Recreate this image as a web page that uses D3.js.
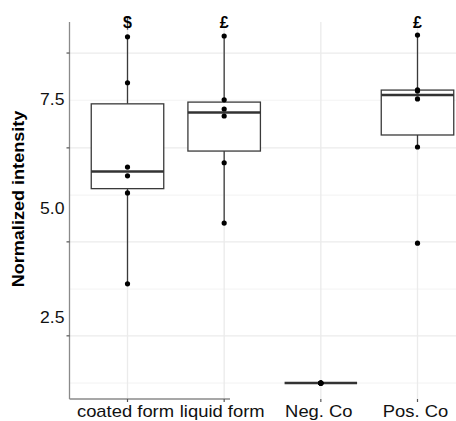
<!DOCTYPE html>
<html><head><meta charset="utf-8">
<script src="https://cdn.jsdelivr.net/npm/d3@7"></script>
<style>body{margin:0;background:#fff}svg{display:block}</style>
</head><body><svg id="c" width="456" height="421"></svg>
<script>
const categories = ["coated form", "liquid form", "Neg. Co", "Pos. Co"];
const coatedForm = [8.92, 7.87, 5.94, 5.74, 5.35, 3.27];
const liquidForm = [8.94, 7.48, 7.27, 7.11, 6.04, 4.66];
const negCo = [1.0, 1.0, 1.0, 1.0, 1.0, 1.0];
const posCo = [8.96, 7.71, 7.68, 7.5, 6.4, 4.2];
const yTickLabels = [2.5, 5.0, 7.5];
const yMajorTicks = [2.08, 4.23, 6.38, 8.55];
const yMinorGrid = [1.0, 3.15, 5.3, 7.47];
const annotCategories = ["coated form", "liquid form", "Pos. Co"];
const annotSymbols = ["$", "£", "£"];
const yTitle = "Normalized intensity";

(function () {
const seriesValues = [coatedForm, liquidForm, negCo, posCo];
const W = 456;
const mLeft = 69.5, mTop = 22, mBottom = 399, rightExt = 475.5;
const FONT = "'Liberation Sans', Arial, sans-serif";

const svg = d3.select("#c");
const x = d3.scalePoint().domain(categories).range([mLeft, rightExt]).padding(0.6);
const y = d3.scaleLinear().domain([0.635, 9.26]).range([mBottom, mTop]);
const boxW = x.step() * 0.75;

// grid
const g = svg.append("g");
g.selectAll(".minor").data(yMinorGrid).join("line")
  .attr("x1", mLeft).attr("x2", W).attr("y1", d => y(d)).attr("y2", d => y(d))
  .attr("stroke", "#efefef").attr("stroke-width", 0.8);
g.selectAll(".major").data(yMajorTicks).join("line")
  .attr("x1", mLeft).attr("x2", W).attr("y1", d => y(d)).attr("y2", d => y(d))
  .attr("stroke", "#ebebeb").attr("stroke-width", 1.3);
g.selectAll(".vmajor").data(categories).join("line")
  .attr("x1", d => x(d)).attr("x2", d => x(d)).attr("y1", mTop).attr("y2", mBottom)
  .attr("stroke", "#ebebeb").attr("stroke-width", 1.3);

// axes lines and ticks
svg.append("line").attr("x1", mLeft).attr("x2", mLeft).attr("y1", mTop).attr("y2", mBottom)
  .attr("stroke", "#8a8a8a").attr("stroke-width", 1.3);
svg.append("line").attr("x1", mLeft).attr("x2", 230).attr("y1", mBottom).attr("y2", mBottom)
  .attr("stroke", "#8a8a8a").attr("stroke-width", 1.3);
svg.selectAll(".yt").data(yMajorTicks).join("line")
  .attr("x1", mLeft - 3).attr("x2", mLeft).attr("y1", d => y(d)).attr("y2", d => y(d))
  .attr("stroke", "#555").attr("stroke-width", 1.2);
svg.selectAll(".xt").data(categories).join("line")
  .attr("x1", d => x(d)).attr("x2", d => x(d)).attr("y1", mBottom).attr("y2", mBottom + 3)
  .attr("stroke", "#555").attr("stroke-width", 1.2);

// boxplots
const stats = categories.map((c, i) => {
  const v = seriesValues[i].slice().sort(d3.ascending);
  const q1 = d3.quantileSorted(v, 0.25), med = d3.quantileSorted(v, 0.5), q3 = d3.quantileSorted(v, 0.75);
  const iqr = q3 - q1;
  const lo = d3.min(v.filter(d => d >= q1 - 1.5 * iqr));
  const hi = d3.max(v.filter(d => d <= q3 + 1.5 * iqr));
  return {c, v, q1, med, q3, lo, hi};
});
const bx = svg.append("g");
stats.forEach(s => {
  const cx = x(s.c);
  bx.append("line").attr("x1", cx).attr("x2", cx).attr("y1", y(s.q3)).attr("y2", y(s.hi))
    .attr("stroke", "#3a3a3a").attr("stroke-width", 1.3);
  bx.append("line").attr("x1", cx).attr("x2", cx).attr("y1", y(s.q1)).attr("y2", y(s.lo))
    .attr("stroke", "#3a3a3a").attr("stroke-width", 1.3);
  bx.append("rect").attr("x", cx - boxW / 2).attr("width", boxW)
    .attr("y", y(s.q3)).attr("height", y(s.q1) - y(s.q3))
    .attr("fill", "#fff").attr("stroke", "#3a3a3a").attr("stroke-width", 1.3);
  bx.append("line").attr("x1", cx - boxW / 2).attr("x2", cx + boxW / 2)
    .attr("y1", y(s.med)).attr("y2", y(s.med))
    .attr("stroke", "#333").attr("stroke-width", 2.6);
});
// points
stats.forEach(s => {
  bx.append("g").selectAll("circle").data(s.v).join("circle")
    .attr("cx", x(s.c)).attr("cy", d => y(d)).attr("r", 2.6).attr("fill", "#000");
});

// annotations
svg.append("g").selectAll("text").data(annotCategories).join("text")
  .attr("x", d => x(d)).attr("y", 27.5).attr("text-anchor", "middle")
  .attr("font-family", FONT).attr("font-weight", "bold").attr("font-size", 16)
  .text((d, i) => annotSymbols[i]);

// y tick labels
svg.append("g").selectAll("text").data(yTickLabels).join("text")
  .attr("transform", d => `translate(64.5,${y(d)}) scale(1.1,1)`)
  .attr("text-anchor", "end").attr("dy", "0.35em")
  .attr("font-family", FONT).attr("font-size", 16).attr("fill", "#111")
  .text(d => d3.format(".1f")(d));

// x tick labels
svg.append("g").selectAll("text").data(categories).join("text")
  .attr("transform", d => `translate(${x(d) - 2},416.5) scale(1.15,1)`)
  .attr("text-anchor", "middle")
  .attr("font-family", FONT).attr("font-size", 16).attr("fill", "#111")
  .text(d => d);

// y title
svg.append("text").attr("transform", "translate(24,199) rotate(-90) scale(1.13,1)")
  .attr("text-anchor", "middle").attr("font-family", FONT).attr("font-weight", "bold")
  .attr("font-size", 16).attr("fill", "#000").text(yTitle);
})();
</script></body></html>
